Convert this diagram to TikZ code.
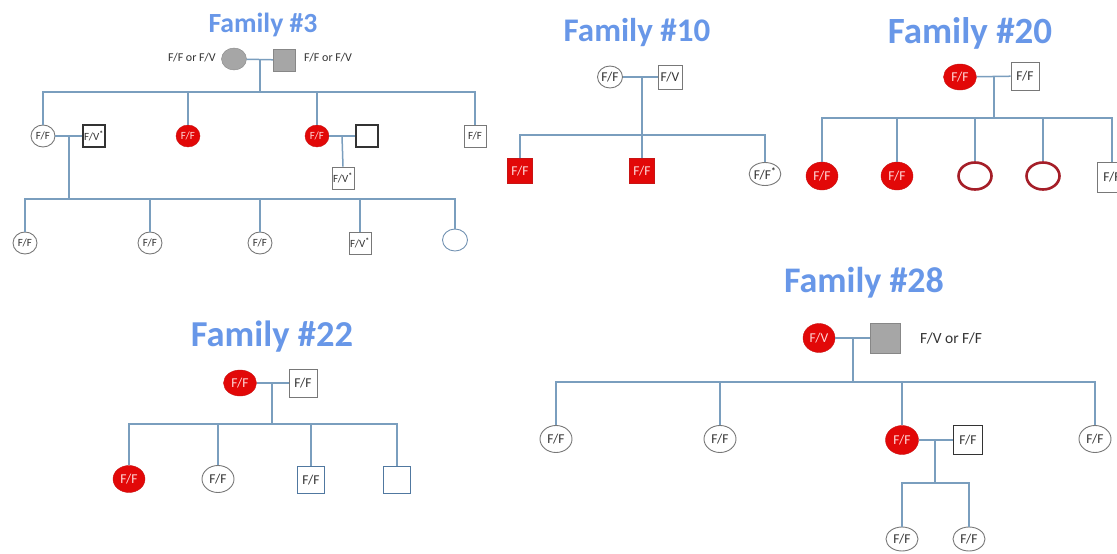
\documentclass[tikz,border=0pt]{standalone}
\usepackage{fontspec}
\setmainfont{Carlito}
\usetikzlibrary{shapes.geometric}
\definecolor{kin}{RGB}{122,158,190}
\definecolor{titleblue}{RGB}{104,151,232}
\definecolor{affected}{RGB}{226,8,8}
\definecolor{affedge}{RGB}{200,20,20}
\definecolor{unkfill}{RGB}{166,166,166}
\definecolor{unkedge}{RGB}{135,135,135}
\definecolor{ringred}{RGB}{165,30,40}
\definecolor{outline}{RGB}{120,120,120}
\definecolor{boxblue}{RGB}{80,120,160}
\newcommand{\fs}[1]{\fontsize{#1}{#1}\selectfont}
\newcommand{\carrier}{\textsuperscript{\textbf{*}}}

\begin{document}
\begin{tikzpicture}[x=1pt,y=-1pt,
  kinline/.style={draw=kin, line width=1.5},
  title/.style={text=titleblue, font=\bfseries\fs{#1}, inner sep=0, anchor=base},
  person/.style={inner sep=0, font=\fs{13.5}, text=black!80},
  fem/.style={person, ellipse, draw=outline, line width=0.9, fill=white,
    minimum width=32, minimum height=27},
  femaff/.style={person, ellipse, draw=affedge, fill=affected, text=red!15,
    minimum width=32, minimum height=27},
  femring/.style={person, ellipse, draw=ringred, line width=2.6, fill=white,
    minimum width=33, minimum height=27},
  femunk/.style={person, ellipse, draw=unkedge, fill=unkfill,
    minimum width=25, minimum height=22},
  mal/.style={person, rectangle, draw=outline, line width=0.9, fill=white,
    minimum size=27},
  malbold/.style={person, rectangle, draw=black!80, line width=1.8, fill=white,
    minimum size=27},
  malaff/.style={person, rectangle, draw=affedge, fill=affected, text=red!15,
    minimum size=25},
  malunk/.style={person, rectangle, draw=unkedge, fill=unkfill,
    minimum size=22},
  malblue/.style={person, rectangle, draw=boxblue, line width=1.2, fill=white,
    minimum size=27},
  small/.style={minimum width=24, minimum height=22, font=\fs{11}},
  smallbox/.style={minimum size=22, font=\fs{11}},
  note/.style={inner sep=0, font=\fs{12}, text=black!80}
]
\useasboundingbox[fill=white] (0,0) rectangle (1117,554);

% ---------------- Family #3 ----------------
\node[title=27.7] (t3) at (263,32) {Family \#3};
\node[femunk] (m3) at (234,59) {};
\node[malunk] (f3) at (284,60) {};
\node[note, anchor=east] (m3l) at (216,58) {F/F or F/V};
\node[note, anchor=west] (f3l) at (304,58) {F/F or F/V};
\coordinate (d3) at (260,59);
\coordinate (s3) at (260,92);

\node[fem, small] (a1) at (43,136) {F/F};
\node[malbold, smallbox] (a1s) at (94,136) {F/V\carrier};
\node[femaff, small] (a2) at (188,136) {F/F};
\node[femaff, small] (a3) at (317,136) {F/F};
\node[malbold, smallbox] (a3s) at (367,136) {};
\node[mal, smallbox, line width=0.7] (a4) at (475,136) {F/F};
\node[mal, smallbox, line width=0.7] (b0) at (343,178) {F/V\carrier};

\coordinate (d31) at (69,136);
\coordinate (s31) at (69,199);
\coordinate (d33) at (342,136);

\node[fem, small] (b1) at (25,243) {F/F};
\node[fem, small] (b2) at (150,243) {F/F};
\node[fem, small] (b3) at (260,243) {F/F};
\node[mal, smallbox, line width=0.7] (b4) at (360,243) {F/V\carrier};
\node[fem, small, draw=boxblue!80, minimum width=25] (b5) at (455,240) {};

\draw[kinline] (m3) -- (f3);
\draw[kinline] (d3) -- (s3);
\draw[kinline] (a1.north) |- (s3) -| (a4.north);
\draw[kinline] (a2.north) -- (a2.north |- s3);
\draw[kinline] (a3.north) -- (a3.north |- s3);
\draw[kinline] (a1) -- (a1s);
\draw[kinline] (a3) -- (a3s);
\draw[kinline] (d33) -- (b0.north);
\draw[kinline] (d31) -- (s31);
\draw[kinline] (b1.north) |- (s31) -| (b5.north);
\draw[kinline] (b2.north) -- (b2.north |- s31);
\draw[kinline] (b3.north) -- (b3.north |- s31);
\draw[kinline] (b4.north) -- (b4.north |- s31);

% ---------------- Family #10 ----------------
\node[title=33] (t10) at (637,41) {Family \#10};
\node[fem, minimum width=25, minimum height=22] (m10) at (610,77) {F/F};
\node[mal, minimum size=24] (f10) at (670,77) {F/V};
\coordinate (d10) at (642,77);
\coordinate (s10) at (642,135);
\node[malaff] (c101) at (520,171) {F/F};
\node[malaff] (c102) at (642,171) {F/F};
\node[fem, minimum width=29, minimum height=23] (c103) at (765,174) {F/F\carrier};
\draw[kinline] (m10) -- (f10);
\draw[kinline] (d10) -- (c102.north);
\draw[kinline] (c101.north) |- (s10) -| (c103.north);

% ---------------- Family #20 ----------------
\node[title=37] (t20) at (970,43) {Family \#20};
\node[femaff, minimum width=33, minimum height=26] (m20) at (960,77) {F/F};
\node[mal, minimum size=28] (f20) at (1025,76) {F/F};
\coordinate (d20) at (994,76);
\coordinate (s20) at (994,118);
\node[femaff, minimum width=32, minimum height=28] (c201) at (822,176) {F/F};
\node[femaff, minimum width=32, minimum height=28] (c202) at (897,176) {F/F};
\node[femring] (c203) at (975,176) {};
\node[femring] (c204) at (1043,176) {};
\node[mal, minimum size=30] (c205) at (1112,177) {F/F};
\draw[kinline] (m20) -- (f20);
\draw[kinline] (d20) -- (s20);
\draw[kinline] (c201.north) |- (s20) -| (c205.north);
\draw[kinline] (c202.north) -- (c202.north |- s20);
\draw[kinline] (c203.north) -- (c203.north |- s20);
\draw[kinline] (c204.north) -- (c204.north |- s20);

% ---------------- Family #22 ----------------
\node[title=36.5] (t22) at (272,346) {Family \#22};
\node[femaff, minimum width=33, minimum height=26] (m22) at (240,383) {F/F};
\node[mal, minimum size=28] (f22) at (303,383) {F/F};
\coordinate (d22) at (272,383);
\coordinate (s22) at (272,424);
\node[femaff, minimum width=32, minimum height=27] (c221) at (129,479) {F/F};
\node[fem] (c222) at (218,479) {F/F};
\node[malblue] (c223) at (311,480) {F/F};
\node[malblue] (c224) at (397,480) {};
\draw[kinline] (m22) -- (f22);
\draw[kinline] (d22) -- (s22);
\draw[kinline] (c221.north) |- (s22) -| (c224.north);
\draw[kinline] (c222.north) -- (c222.north |- s22);
\draw[kinline] (c223.north) -- (c223.north |- s22);

% ---------------- Family #28 ----------------
\node[title=36] (t28) at (864,292) {Family \#28};
\node[femaff, minimum width=32, minimum height=29] (m28) at (819,338) {F/V};
\node[malunk, minimum size=30] (f28) at (885,338) {};
\node[note, font=\fs{15.5}, anchor=west] (f28l) at (920,338) {F/V or F/F};
\coordinate (d28) at (853,338);
\coordinate (s28) at (853,382);
\node[fem] (c281) at (556,439) {F/F};
\node[fem] (c282) at (720,439) {F/F};
\node[femaff, minimum width=33, minimum height=29] (c283) at (902,440) {F/F};
\node[malbold, minimum size=29] (c283s) at (968,440) {F/F};
\node[fem] (c284) at (1095,439) {F/F};
\coordinate (d283) at (935,440);
\coordinate (s283) at (935,483);
\node[fem, minimum height=24] (g1) at (902,539) {F/F};
\node[fem, minimum height=24] (g2) at (969,539) {F/F};
\draw[kinline] (m28) -- (f28);
\draw[kinline] (d28) -- (s28);
\draw[kinline] (c281.north) |- (s28) -| (c284.north);
\draw[kinline] (c282.north) -- (c282.north |- s28);
\draw[kinline] (c283.north) -- (c283.north |- s28);
\draw[kinline] (c283) -- (c283s);
\draw[kinline] (d283) -- (s283);
\draw[kinline] (g1.north) |- (s283) -| (g2.north);
\end{tikzpicture}
\end{document}
